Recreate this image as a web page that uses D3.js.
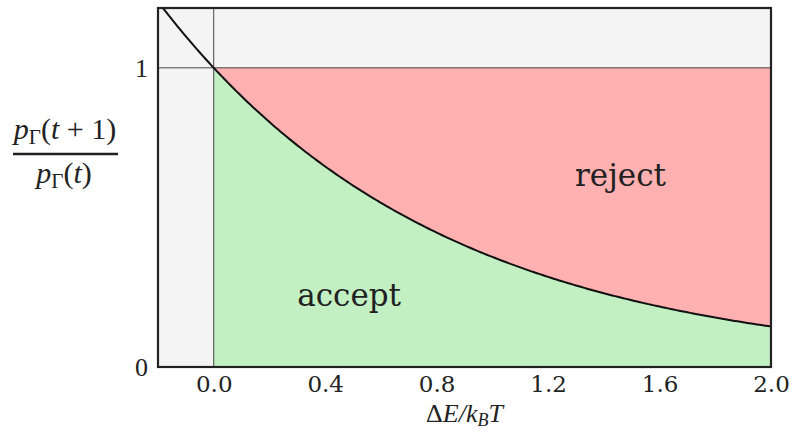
<!DOCTYPE html>
<html>
<head>
<meta charset="utf-8">
<script src="https://cdn.jsdelivr.net/npm/d3@7"></script>
<style>
  body { margin: 0; background: #fff; }
  svg text { font-family: "DejaVu Serif", serif; fill: #222; }
  svg text.math { font-family: "Liberation Serif", "Times New Roman", serif; }
</style>
</head>
<body>
<svg id="chart" width="792" height="432"></svg>
<script>
// Metropolis acceptance ratio exp(-ΔE/kT)
const xDomain = [-0.2, 2.0];
const yDomain = [0, 1.2];
const xTicks = [0.0, 0.4, 0.8, 1.2, 1.6, 2.0];
const xTickLabels = ["0.0", "0.4", "0.8", "1.2", "1.6", "2.0"];
const yTicks = [0, 1];
const yTickLabels = ["0", "1"];
// sampled energies along the curve
const energies = d3.range(-0.2, 2.0001, 0.01);
const regionLabels = [
  { text: "reject", x: 1.46, y: 0.632 },
  { text: "accept", x: 0.486, y: 0.231 }
];

const margin = { left: 158, right: 21, top: 8, bottom: 65 };
const W = 792, H = 432;
const svg = d3.select("#chart");
const x = d3.scaleLinear().domain(xDomain).range([margin.left, W - margin.right]);
const y = d3.scaleLinear().domain(yDomain).range([H - margin.bottom, margin.top]);

svg.append("defs").append("clipPath").attr("id", "plotclip")
  .append("rect")
  .attr("x", x(xDomain[0])).attr("y", y(yDomain[1]))
  .attr("width", x(xDomain[1]) - x(xDomain[0]))
  .attr("height", y(yDomain[0]) - y(yDomain[1]));

const plot = svg.append("g").attr("clip-path", "url(#plotclip)");

plot.append("rect")
  .attr("x", x(xDomain[0])).attr("y", y(yDomain[1]))
  .attr("width", x(xDomain[1]) - x(xDomain[0]))
  .attr("height", y(yDomain[0]) - y(yDomain[1]))
  .attr("fill", "#f4f4f4");

const pos = energies.filter(e => e >= 0);
// reject region: between curve and 1
plot.append("path")
  .datum(pos)
  .attr("fill", "#ffb0b0")
  .attr("d", d3.area().x(d => x(d)).y0(y(1)).y1(d => y(Math.exp(-d))));
// accept region: under curve
plot.append("path")
  .datum(pos)
  .attr("fill", "#c2f0c2")
  .attr("d", d3.area().x(d => x(d)).y0(y(0)).y1(d => y(Math.exp(-d))));

// reference lines
plot.append("line")
  .attr("x1", x(0)).attr("x2", x(0))
  .attr("y1", y(yDomain[0])).attr("y2", y(yDomain[1]))
  .attr("stroke", "#333").attr("stroke-width", 0.9);
plot.append("line")
  .attr("x1", x(xDomain[0])).attr("x2", x(xDomain[1]))
  .attr("y1", y(1)).attr("y2", y(1))
  .attr("stroke", "#333").attr("stroke-width", 0.9);

plot.append("path")
  .datum(energies)
  .attr("fill", "none")
  .attr("stroke", "#111")
  .attr("stroke-width", 2)
  .attr("d", d3.line().x(d => x(d)).y(d => y(Math.exp(-d))));

// frame
svg.append("rect")
  .attr("x", x(xDomain[0])).attr("y", y(yDomain[1]))
  .attr("width", x(xDomain[1]) - x(xDomain[0]))
  .attr("height", y(yDomain[0]) - y(yDomain[1]))
  .attr("fill", "none").attr("stroke", "#222").attr("stroke-width", 2.2);

// axes (labels only)
const xAxis = d3.axisBottom(x).tickValues(xTicks)
  .tickFormat((d, i) => xTickLabels[i]).tickSize(0).tickPadding(9);
const gx = svg.append("g").attr("transform", `translate(0,${y(0)})`).call(xAxis);
gx.select(".domain").remove();
gx.selectAll("text").attr("font-size", 23).attr("font-family", "DejaVu Serif").attr("fill", "#222");

const yAxis = d3.axisLeft(y).tickValues(yTicks)
  .tickFormat((d, i) => yTickLabels[i]).tickSize(0).tickPadding(10);
const gy = svg.append("g").attr("transform", `translate(${x(xDomain[0])},0)`).call(yAxis);
gy.select(".domain").remove();
gy.selectAll("text").attr("class", "math").attr("font-size", 26)
  .attr("font-family", "Liberation Serif").attr("fill", "#222");

// region labels
svg.selectAll(".region").data(regionLabels).enter().append("text")
  .attr("class", "region")
  .attr("x", d => x(d.x)).attr("y", d => y(d.y))
  .attr("text-anchor", "middle").attr("dominant-baseline", "middle")
  .attr("font-size", 31)
  .text(d => d.text);

// x axis title: ΔE/k_B T
const xt = svg.append("text")
  .attr("class", "math")
  .attr("x", (x(xDomain[0]) + x(xDomain[1])) / 2).attr("y", 422)
  .attr("text-anchor", "middle")
  .attr("font-size", 26);
xt.append("tspan").text("Δ");
xt.append("tspan").attr("font-style", "italic").text("E");
xt.append("tspan").attr("font-style", "italic").text("/");
xt.append("tspan").attr("font-style", "italic").text("k");
xt.append("tspan").attr("font-style", "italic").attr("font-size", 18).attr("dy", 4).text("B");
xt.append("tspan").attr("font-style", "italic").attr("dy", -4).text("T");

// y axis title: fraction p_Γ(t+1)/p_Γ(t)
const yt = svg.append("g");
const num = yt.append("text").attr("class", "math").attr("x", 65).attr("y", 139)
  .attr("text-anchor", "middle").attr("font-size", 30);
num.append("tspan").attr("font-style", "italic").text("p");
num.append("tspan").attr("font-size", 21).attr("dy", 5).text("Γ");
num.append("tspan").attr("dy", -5).text("(");
num.append("tspan").attr("font-style", "italic").text("t");
num.append("tspan").text(" + 1)");
yt.append("line").attr("x1", 13).attr("x2", 118).attr("y1", 154).attr("y2", 154)
  .attr("stroke", "#222").attr("stroke-width", 2.4);
const den = yt.append("text").attr("class", "math").attr("x", 64).attr("y", 183)
  .attr("text-anchor", "middle").attr("font-size", 30);
den.append("tspan").attr("font-style", "italic").text("p");
den.append("tspan").attr("font-size", 21).attr("dy", 5).text("Γ");
den.append("tspan").attr("dy", -5).text("(");
den.append("tspan").attr("font-style", "italic").text("t");
den.append("tspan").text(")");
</script>
</body>
</html>
